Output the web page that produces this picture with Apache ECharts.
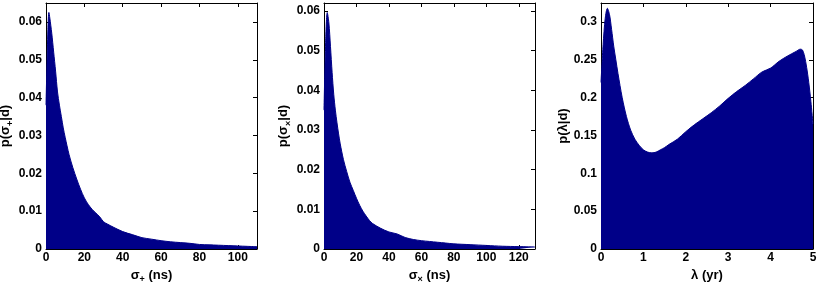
<!DOCTYPE html>
<html><head><meta charset="utf-8">
<script src="https://cdn.jsdelivr.net/npm/echarts@6/dist/echarts.min.js"></script>
<style>html,body{margin:0;padding:0;background:#fff}#c{width:817px;height:283px}</style>
</head><body><div id="c"></div>
<script>
// Panel 1: p(sigma_+ | d)
const sigPlusX = [0,1,1.5,2,3,4,5,6,7,8,9,10,12,14,16,18,20,22,24,26,28,30,32,35,40,45,50,55,60,65,70,75,80,85,90,95,100,105,110];
const sigPlusY = [0.038,0.058,0.0625,0.061,0.057,0.052,0.047,0.0415,0.038,0.035,0.032,0.0295,0.025,0.0215,0.0185,0.0158,0.0135,0.0118,0.0105,0.0095,0.0085,0.0072,0.0066,0.0058,0.0046,0.0038,0.0030,0.0026,0.0022,0.0019,0.0017,0.0015,0.0012,0.0011,0.0010,0.0009,0.0008,0.0007,0.0006];
// Panel 2: p(sigma_x | d)
const sigCrossX = [0,1,2,3,4,5,6,7,8,9,10,12,14,16,18,20,22,24,26,28,30,35,40,45,50,55,60,65,70,75,80,90,100,110,120,130];
const sigCrossY = [0.035,0.052,0.0596,0.057,0.051,0.0445,0.039,0.035,0.0318,0.029,0.0265,0.0225,0.0195,0.0168,0.0148,0.0128,0.011,0.0095,0.0083,0.0072,0.0064,0.0052,0.0043,0.0038,0.0029,0.0024,0.0021,0.0019,0.0017,0.0015,0.0013,0.0011,0.0009,0.0007,0.0006,0.0005];
// Panel 3: p(lambda | d)
const lambdaX = [0,0.05,0.1,0.15,0.2,0.25,0.3,0.35,0.4,0.5,0.6,0.7,0.8,0.9,1.0,1.1,1.2,1.3,1.4,1.5,1.6,1.8,2.0,2.2,2.4,2.6,2.8,3.0,3.2,3.4,3.6,3.8,4.0,4.2,4.4,4.6,4.7,4.75,4.8,4.85,4.9,4.95,5.0];
const lambdaY = [0.22,0.27,0.305,0.318,0.31,0.29,0.268,0.25,0.232,0.2,0.175,0.157,0.145,0.137,0.131,0.128,0.127,0.128,0.131,0.134,0.138,0.145,0.155,0.164,0.172,0.18,0.189,0.199,0.208,0.216,0.225,0.234,0.239,0.248,0.255,0.261,0.264,0.263,0.255,0.24,0.22,0.195,0.165];

const FILL = '#000088';
const FONT = 'Liberation Sans';
const panels = [
  {x: sigPlusX, y: sigPlusY, xmax: 110, xint: 20, ymax: 0.065, yint: 0.01, showMaxX: false,
   grid: {left: 46, right: 560, top: 3, bottom: 34},
   xname: '{a|σ}{s|+}{a| (ns)}', yname: '{a|p(σ}{s|+}{a||d)}', ygap: 30},
  {x: sigCrossX, y: sigCrossY, xmax: 130, xint: 20, ymax: 0.062, yint: 0.01, showMaxX: false,
   grid: {left: 324, right: 282, top: 3, bottom: 34},
   xname: '{a|σ}{s|×}{a| (ns)}', yname: '{a|p(σ}{s|×}{a||d)}', ygap: 31},
  {x: lambdaX, y: lambdaY, xmax: 5, xint: 1, ymax: 0.325, yint: 0.05, showMaxX: true,
   grid: {left: 601, right: 4, top: 3, bottom: 34},
   xname: '{a|λ (yr)}', yname: '{a|p(λ|d)}', ygap: 26}
];

const rich = {
  a: {fontFamily: FONT, fontWeight: 'bold', fontSize: 13, color: '#000'},
  s: {fontFamily: FONT, fontWeight: 'bold', fontSize: 9, color: '#000', padding: [9, 0, 0, 0]}
};

const grid = [], xAxis = [], yAxis = [], series = [];
panels.forEach((p, i) => {
  grid.push(Object.assign({containLabel: false, outerBoundsMode: 'none'}, p.grid));
  const line = {show: true, onZero: false, lineStyle: {color: '#000', width: 1}};
  const tick = {show: true, inside: true, length: 4, lineStyle: {color: '#000', width: 1}};
  const lab = {fontFamily: FONT, fontWeight: 'bold', fontSize: 12, color: '#000', margin: 4};
  xAxis.push({gridIndex: i, type: 'value', min: 0, max: p.xmax, interval: p.xint, position: 'bottom',
    axisLine: line, axisTick: tick, axisLabel: Object.assign({}, lab, {showMaxLabel: p.showMaxX, margin: 3}), splitLine: {show: false},
    name: p.xname, nameLocation: 'middle', nameGap: 15, nameTextStyle: {rich: rich}});
  xAxis.push({gridIndex: i, type: 'value', min: 0, max: p.xmax, interval: p.xint, position: 'top',
    axisLine: line, axisTick: tick, axisLabel: {show: false}, splitLine: {show: false}});
  yAxis.push({gridIndex: i, type: 'value', min: 0, max: p.ymax, interval: p.yint, position: 'left',
    axisLine: line, axisTick: tick, axisLabel: Object.assign({}, lab, {showMaxLabel: false}), splitLine: {show: false},
    name: p.yname, nameLocation: 'middle', nameGap: p.ygap, nameRotate: 90, nameTextStyle: {rich: rich}});
  yAxis.push({gridIndex: i, type: 'value', min: 0, max: p.ymax, interval: p.yint, position: 'right',
    axisLine: line, axisTick: tick, axisLabel: {show: false}, splitLine: {show: false}});
  series.push({type: 'line', xAxisIndex: 2 * i, yAxisIndex: 2 * i, symbol: 'none', smooth: 0.3,
    data: p.x.map((v, k) => [v, p.y[k]]),
    lineStyle: {color: FILL, width: 1}, areaStyle: {color: FILL, opacity: 1}, z: 1});
});

const chart = echarts.init(document.getElementById('c'), null, {renderer: 'canvas'});
chart.setOption({animation: false, backgroundColor: '#fff', grid, xAxis, yAxis, series});
</script></body></html>
